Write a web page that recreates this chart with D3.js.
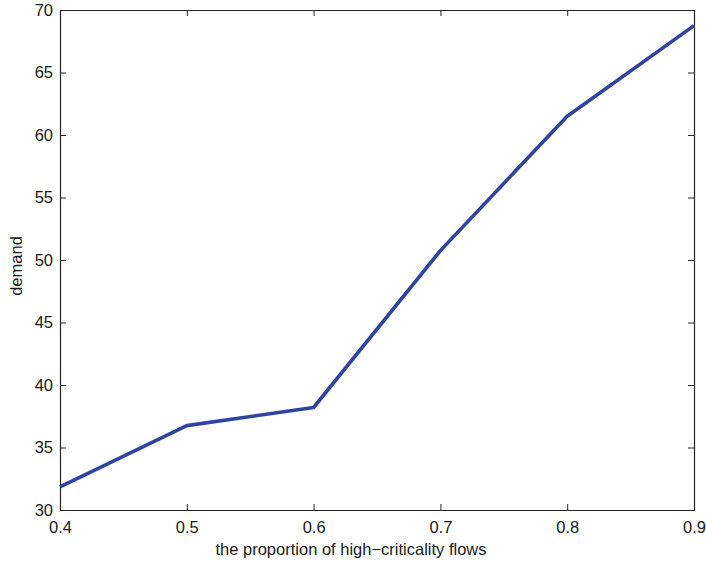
<!DOCTYPE html>
<html>
<head>
<meta charset="utf-8">
<script src="https://cdn.jsdelivr.net/npm/d3@7"></script>
<style>
    body { margin: 0; background: #fff; }
    text { font-family: "Liberation Sans", Arial, sans-serif; fill: #1a1a1a; }
</style>
</head>
<body>
<svg id="chart" width="706" height="563"></svg>
<script>
const proportions = [0.4, 0.5, 0.6, 0.7, 0.8, 0.9]
const demand = [31.85, 36.75, 38.2, 50.75, 61.5, 68.75]
const xTicks = [0.4, 0.5, 0.6, 0.7, 0.8, 0.9]
const yTicks = [30, 35, 40, 45, 50, 55, 60, 65, 70]

let svg = d3.select("#chart"),
    margin = {top: 10, right: 12, bottom: 53, left: 60},
    width = 706 - margin.left - margin.right,
    height = 563 - margin.top - margin.bottom

let g = svg.append("g")
    .attr("transform", `translate(${margin.left},${margin.top})`)

let x = d3.scaleLinear().domain([0.4, 0.9]).range([0, width]),
    y = d3.scaleLinear().domain([30, 70]).range([height, 0])

function styleAxis(sel, showLabels) {
    sel.selectAll("path").attr("stroke", "#262626").attr("stroke-width", 1.2)
    sel.selectAll("line").attr("stroke", "#262626")
    sel.selectAll("text").style("font-size", "16.5px")
    if (!showLabels) sel.selectAll("text").remove()
}

g.append("g")
    .attr("transform", `translate(0,${height})`)
    .call(d3.axisBottom(x).tickValues(xTicks).tickSizeInner(-6).tickSizeOuter(0).tickPadding(11).tickFormat(d3.format(".1f")))
    .call(sel => styleAxis(sel, true))

g.append("g")
    .call(d3.axisTop(x).tickValues(xTicks).tickSizeInner(-6).tickSizeOuter(0))
    .call(sel => styleAxis(sel, false))

g.append("g")
    .call(d3.axisLeft(y).tickValues(yTicks).tickSizeInner(-6).tickSizeOuter(0).tickPadding(7))
    .call(sel => styleAxis(sel, true))

g.append("g")
    .attr("transform", `translate(${width},0)`)
    .call(d3.axisRight(y).tickValues(yTicks).tickSizeInner(-6).tickSizeOuter(0))
    .call(sel => styleAxis(sel, false))

let line = d3.line()
    .x((d, i) => x(proportions[i]))
    .y(d => y(d))

g.append("path")
    .datum(demand)
    .attr("fill", "none")
    .attr("stroke", "#2f44a0")
    .attr("stroke-width", 3.6)
    .attr("stroke-linejoin", "round")
    .attr("d", line)

g.append("text")
    .attr("x", width / 2 - 26)
    .attr("y", height + 45)
    .attr("text-anchor", "middle")
    .style("font-size", "16.5px")
    .text("the proportion of high\u2212criticality flows")

g.append("text")
    .attr("transform", `translate(${-38},${height / 2 + 6}) rotate(-90)`)
    .attr("text-anchor", "middle")
    .style("font-size", "16.5px")
    .text("demand")
</script>
</body>
</html>
